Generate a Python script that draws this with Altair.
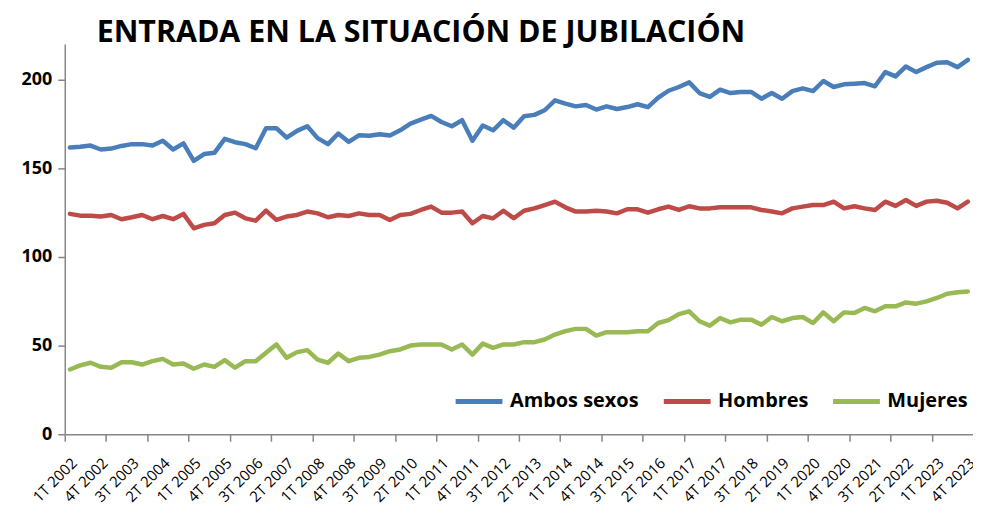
import json
import altair as alt
import pandas as pd

quarters = ["1T", "2T", "3T", "4T"]
years = list(range(2002, 2024))
categories = [f"{q} {y}" for y in years for q in quarters]

series_names = ["Ambos sexos", "Hombres", "Mujeres"]
series_colors = ["#4A7EBB", "#BE4B48", "#98B954"]

ambos = [161.6, 162.0, 162.7, 160.5, 161.0, 162.5, 163.5, 163.5, 162.7, 165.4,
         160.5, 163.9, 154.1, 157.9, 158.6, 166.5, 164.6, 163.5, 161.2, 172.5,
         172.5, 167.2, 171.0, 173.6, 166.9, 163.5, 169.5, 164.8, 168.5, 168.2,
         169.1, 168.4, 171.3, 175.1, 177.3, 179.4, 176.0, 173.6, 177.0, 165.4,
         174.0, 171.3, 177.0, 172.8, 179.2, 180.0, 182.6, 188.2, 186.3, 184.8,
         185.6, 183.0, 184.8, 183.3, 184.4, 186.0, 184.4, 189.7, 193.6, 195.7,
         198.3, 192.3, 190.1, 194.2, 192.3, 192.9, 192.9, 189.1, 192.3, 189.1,
         193.4, 194.9, 193.4, 199.1, 195.7, 197.2, 197.6, 197.9, 196.1, 204.1,
         201.7, 207.3, 204.1, 206.9, 209.4, 209.7, 206.9, 211.0]

hombres = [124.2, 123.2, 123.2, 122.7, 123.6, 121.2, 122.3, 123.6, 121.2, 123.0,
           121.2, 124.2, 116.1, 118.0, 118.9, 123.6, 124.9, 121.7, 120.4, 126.0,
           120.8, 122.7, 123.6, 125.5, 124.5, 122.3, 123.6, 123.0, 124.5, 123.6,
           123.6, 120.8, 123.6, 124.2, 126.4, 128.3, 124.9, 124.9, 125.5, 118.9,
           123.0, 121.7, 126.0, 121.7, 126.0, 127.3, 129.2, 131.1, 127.9, 125.5,
           125.5, 126.0, 125.5, 124.5, 126.8, 126.8, 124.9, 126.8, 128.3, 126.4,
           128.5, 127.3, 127.3, 127.9, 127.9, 127.9, 127.9, 126.4, 125.5, 124.5,
           127.3, 128.3, 129.2, 129.2, 131.1, 127.3, 128.5, 127.3, 126.4, 131.1,
           128.7, 132.0, 128.7, 131.1, 131.6, 130.5, 127.3, 131.1]

mujeres = [36.5, 38.8, 40.3, 38.0, 37.5, 40.6, 40.6, 39.3, 41.2, 42.5,
           39.3, 39.9, 36.9, 39.3, 38.0, 41.8, 37.5, 41.2, 41.2, 45.9,
           50.6, 43.1, 46.3, 47.4, 42.1, 40.3, 45.5, 41.2, 43.1, 43.6,
           44.9, 46.8, 47.8, 50.0, 50.6, 50.6, 50.6, 47.8, 50.6, 44.9,
           51.1, 48.7, 50.6, 50.6, 51.9, 51.9, 53.4, 56.2, 58.1, 59.4,
           59.4, 55.6, 57.5, 57.5, 57.5, 58.1, 58.1, 62.7, 64.3, 67.7,
           69.3, 63.7, 61.2, 65.5, 63.1, 64.6, 64.6, 61.8, 66.1, 63.7,
           65.5, 66.1, 62.7, 68.7, 63.7, 68.7, 68.3, 71.2, 69.3, 72.1,
           72.1, 74.3, 73.6, 74.9, 76.8, 79.2, 80.0, 80.5]

y_ticks = [0, 50, 100, 150, 200]

rows = []
for name, vals in zip(series_names, [ambos, hombres, mujeres]):
    for i, v in enumerate(vals):
        rows.append({"serie": name, "idx": i + 0.5, "quarter": categories[i], "valor": v})
df = pd.DataFrame(rows)

n = len(categories)
label_vals = [i + 0.5 for i in range(0, n, 3)]
tick_vals = [float(i) for i in range(0, n, 4)]
axis_vals = sorted(label_vals + tick_vals)

label_expr = f"(datum.value % 1 != 0) ? {json.dumps(categories)}[floor(datum.value)] : ''"

FONT = "Open Sans"

chart = alt.Chart(df).mark_line(strokeWidth=4.5, strokeJoin="round", strokeCap="round").encode(
    x=alt.X("idx:Q",
            scale=alt.Scale(domain=[0, n], nice=False, zero=False),
            axis=alt.Axis(values=axis_vals, labelExpr=label_expr, title=None,
                          grid=False, labelAngle=-45, labelAlign="right",
                          labelBaseline="middle", labelPadding=19, labelOffset=4,
                          labelOverlap=False, labelFont=FONT, labelFontSize=15,
                          labelColor="#000000", tickSize=7, tickColor="#868686",
                          tickWidth=1.5,
                          tickOpacity={"condition": {"test": "datum.value % 4 == 0", "value": 1}, "value": 0},
                          domainColor="#868686", domainWidth=1.5, labelFlush=False)),
    y=alt.Y("valor:Q",
            scale=alt.Scale(domain=[0, 220], nice=False),
            axis=alt.Axis(values=y_ticks, title=None, grid=False, labelFont=FONT,
                          labelFontSize=18, labelFontWeight="bold", labelColor="#000000",
                          labelPadding=6, tickSize=7, tickColor="#868686", tickWidth=1.5,
                          domainColor="#868686", domainWidth=1.5)),
    color=alt.Color("serie:N",
                    scale=alt.Scale(domain=series_names, range=series_colors),
                    legend=alt.Legend(orient="none", legendX=390, legendY=333,
                                      direction="horizontal", title=None,
                                      symbolType="stroke", symbolSize=2209,
                                      symbolStrokeWidth=5, labelFont=FONT,
                                      labelFontSize=20, labelFontWeight="bold",
                                      labelColor="#000000", columnPadding=14,
                                      labelOffset=5, padding=0)),
    detail="serie:N",
).properties(
    width=912,
    height=392,
    title=alt.TitleParams("ENTRADA EN LA SITUACIÓN DE JUBILACIÓN", anchor="start",
                          frame="group", dx=32, dy=29, fontSize=30.5, font=FONT,
                          fontWeight="bold", color="#000000", baseline="alphabetic",
                          offset=0),
    autosize=alt.AutoSizeParams(type="none"),
    padding={"left": 57, "top": 35, "right": 0, "bottom": 75},
).configure_view(stroke=None)

chart.save("out.html", embed_options={"renderer": "svg", "actions": False})
